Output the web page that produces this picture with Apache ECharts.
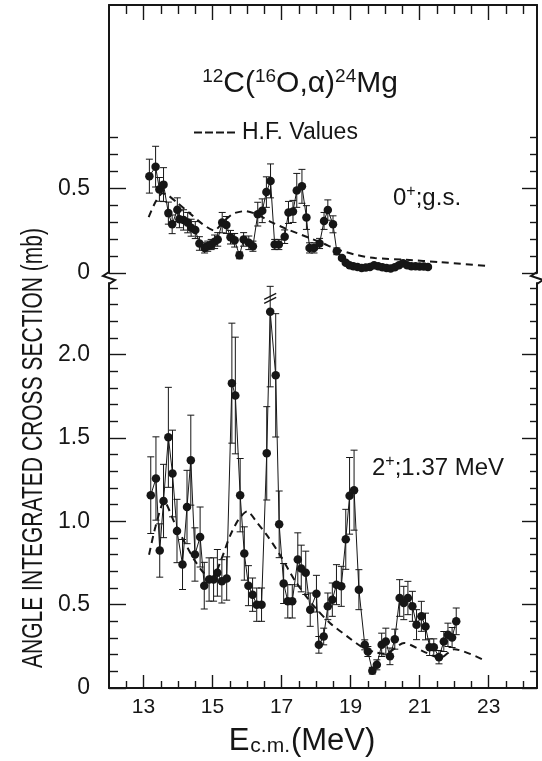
<!DOCTYPE html>
<html>
<head>
<meta charset="utf-8">
<script src="https://cdn.jsdelivr.net/npm/echarts@6/dist/echarts.min.js"></script>
<style>
  html, body { margin: 0; padding: 0; background: #fff; }
  #chart { width: 542px; height: 761px; }
</style>
</head>
<body>
<div id="chart"></div>
<script>
// 12C(16O,alpha)24Mg angle-integrated cross sections (mb) vs E c.m. (MeV)

// Ground state (0+)
const gsEnergy = [13.17,13.35,13.46,13.58,13.72,13.83,13.98,14.04,14.16,14.28,14.38,14.50,14.62,14.77,14.86,14.96,15.06,15.15,15.28,15.40,15.52,15.64,15.78,15.90,16.05,16.17,16.31,16.44,16.56,16.68,16.80,16.92,17.09,17.20,17.33,17.44,17.59,17.72,17.81,17.94,18.10,18.23,18.34,18.49,18.60,18.75,18.86,18.97,19.08,19.20,19.32,19.44,19.56,19.68,19.80,19.92,20.04,20.16,20.28,20.40,20.52,20.64,20.76,20.88,21.00,21.12,21.24];
const gsSigma = [0.571,0.627,0.493,0.521,0.353,0.287,0.373,0.317,0.313,0.297,0.267,0.253,0.174,0.148,0.158,0.168,0.184,0.198,0.297,0.283,0.211,0.193,0.104,0.198,0.178,0.158,0.347,0.367,0.477,0.543,0.168,0.168,0.214,0.357,0.363,0.487,0.511,0.327,0.148,0.148,0.174,0.307,0.371,0.287,0.128,0.088,0.060,0.045,0.040,0.035,0.030,0.032,0.036,0.045,0.040,0.034,0.030,0.026,0.034,0.045,0.058,0.046,0.040,0.040,0.038,0.038,0.036];
const gsError = [0.10,0.12,0.07,0.10,0.065,0.055,0.07,0.05,0.06,0.06,0.05,0.05,0.04,0.03,0.03,0.03,0.04,0.04,0.06,0.05,0.04,0.04,0.02,0.04,0.04,0.03,0.07,0.07,0.09,0.10,0.03,0.03,0.04,0.065,0.065,0.10,0.10,0.07,0.03,0.03,0.03,0.05,0.06,0.05,0.02,0.01,0.01,0.01,0.01,0.01,0.01,0.01,0.01,0.01,0.01,0.01,0.01,0.01,0.01,0.01,0.01,0.01,0.01,0.01,0.01,0.01,0.01];

// First excited state (2+, 1.37 MeV)
const exEnergy = [13.21,13.36,13.47,13.58,13.72,13.84,13.97,14.13,14.26,14.37,14.49,14.64,14.76,14.90,15.03,15.14,15.27,15.41,15.56,15.66,15.80,15.92,16.04,16.16,16.28,16.42,16.57,16.67,16.83,16.93,17.06,17.18,17.31,17.47,17.57,17.70,17.83,18.01,18.08,18.22,18.34,18.47,18.59,18.73,18.86,18.97,19.10,19.24,19.41,19.50,19.63,19.76,19.90,20.02,20.14,20.28,20.42,20.54,20.66,20.79,20.91,21.05,21.17,21.29,21.41,21.56,21.70,21.82,21.94,22.06];
const exSigma = [1.157,1.257,0.825,1.122,1.504,1.287,0.942,0.741,1.086,1.367,0.801,0.906,0.614,0.651,0.651,0.691,0.640,0.657,1.829,1.755,1.157,0.807,0.614,0.560,0.500,0.500,1.408,2.257,1.876,0.982,0.627,0.520,0.520,0.771,0.717,0.691,0.470,0.566,0.259,0.309,0.490,0.530,0.620,0.610,0.892,1.153,1.187,0.590,0.259,0.219,0.104,0.139,0.259,0.279,0.190,0.293,0.540,0.510,0.540,0.490,0.380,0.430,0.369,0.245,0.245,0.185,0.279,0.319,0.303,0.400];
const exError = [0.23,0.25,0.16,0.22,0.30,0.26,0.19,0.15,0.22,0.27,0.16,0.18,0.14,0.13,0.13,0.14,0.13,0.13,0.36,0.35,0.22,0.16,0.12,0.10,0.10,0.10,0.28,0.45,0.37,0.20,0.12,0.10,0.10,0.16,0.14,0.13,0.10,0.11,0.05,0.05,0.08,0.10,0.12,0.12,0.18,0.23,0.24,0.12,0.03,0.03,0.02,0.03,0.07,0.08,0.05,0.06,0.11,0.10,0.10,0.09,0.09,0.09,0.08,0.05,0.05,0.04,0.06,0.07,0.06,0.08];

// Hauser-Feshbach predictions
const hfGsEnergy = [13.15,13.35,13.55,13.70,14.00,14.35,14.70,15.05,15.30,15.60,15.95,16.30,16.70,17.20,17.70,18.20,18.60,19.20,19.70,20.60,21.60,22.90];
const hfGsSigma  = [0.330,0.420,0.470,0.460,0.410,0.350,0.290,0.250,0.300,0.350,0.365,0.345,0.300,0.255,0.215,0.175,0.140,0.105,0.088,0.078,0.064,0.042];
const hfExEnergy = [13.16,13.35,13.60,13.90,14.20,14.50,14.75,15.00,15.25,15.50,15.75,16.00,16.30,16.60,16.95,17.40,17.90,18.40,18.90,19.30,19.70,20.00,20.55,21.10,21.60,22.00,22.90];
const hfExSigma  = [0.800,0.970,1.120,0.990,0.870,0.760,0.690,0.665,0.770,0.910,1.010,1.060,0.990,0.910,0.800,0.640,0.500,0.390,0.310,0.250,0.215,0.205,0.270,0.220,0.180,0.233,0.164];

// Axis ranges and labelled ticks
const energyRange = [12, 24.4];
const energyLabels = [13, 15, 17, 19, 21, 23];
const gsRange = [0, 1.58];
const gsLabels = [0, 0.5];
const exRange = [0, 2.43];
const exLabels = [0, 0.5, 1.0, 1.5, 2.0];
const exBarBreak = 2.41;   // error bars above this are drawn broken

const INK = '#161616';
const FONT = "'Liberation Sans', Arial, sans-serif";

// minor tick positions
const energyMinor = [];
for (let k = 25; k <= 48; k++) { const v = k / 2; if (energyLabels.indexOf(v) < 0) energyMinor.push(v); }
function tenths(maxK) { const out = []; for (let k = 1; k <= maxK; k++) if (k % 5) out.push(k / 10); return out; }
const gsMinor = tenths(8);
const exMinor = tenths(24);

function xAxis(gridIndex, position, ticks, len, showLine, labels) {
  return {
    type: 'value', gridIndex, position, min: energyRange[0], max: energyRange[1],
    axisLine: { show: showLine, onZero: false, lineStyle: { color: INK, width: 2 } },
    axisTick: { show: true, inside: true, length: len, customValues: ticks, lineStyle: { color: INK, width: 1.4 } },
    axisLabel: labels ? { show: true, customValues: labels, formatter: v => String(v), fontFamily: FONT, fontSize: 21, color: INK, margin: 9 } : { show: false },
    splitLine: { show: false }
  };
}
function yAxis(gridIndex, position, range, ticks, len, showLine, labels) {
  return {
    type: 'value', gridIndex, position, min: range[0], max: range[1],
    axisLine: { show: showLine, onZero: false, lineStyle: { color: INK, width: 2 } },
    axisTick: { show: true, inside: true, length: len, customValues: ticks, lineStyle: { color: INK, width: 1.4 } },
    axisLabel: labels ? { show: true, customValues: labels, formatter: v => (v === 0 ? '0' : v.toFixed(1)), fontFamily: FONT, fontSize: 23, color: INK, margin: 19 } : { show: false },
    splitLine: { show: false }
  };
}

function errorBars(capAt) {
  return function (params, api) {
    const x = api.value(0), y = api.value(1), e = api.value(2);
    const broken = y + e > capAt;
    const hi = broken ? capAt : y + e;
    const lo = Math.max(y - e, 0);
    const p1 = api.coord([x, hi]), p2 = api.coord([x, lo]);
    const w = 3.5;
    const st = { stroke: INK, lineWidth: 1 };
    const children = [
      { type: 'line', shape: { x1: p1[0], y1: p1[1], x2: p2[0], y2: p2[1] }, style: st },
      { type: 'line', shape: { x1: p1[0] - w, y1: p1[1], x2: p1[0] + w, y2: p1[1] }, style: st },
      { type: 'line', shape: { x1: p2[0] - w, y1: p2[1], x2: p2[0] + w, y2: p2[1] }, style: st }
    ];
    if (broken) {
      const yb = p1[1] + 10;
      children.push({ type: 'line', shape: { x1: p1[0] - 6, y1: yb + 3, x2: p1[0] + 6, y2: yb - 3 }, style: { stroke: INK, lineWidth: 1.3 } });
      children.push({ type: 'line', shape: { x1: p1[0] - 6, y1: yb + 7, x2: p1[0] + 6, y2: yb + 1 }, style: { stroke: INK, lineWidth: 1.3 } });
    }
    return { type: 'group', children };
  };
}

const zip2 = (a, b) => a.map((v, i) => [v, b[i]]);
const zip3 = (a, b, c) => a.map((v, i) => [v, b[i], c[i]]);

const dataLine = (xi, yi, data) => ({
  type: 'line', xAxisIndex: xi, yAxisIndex: yi, data,
  symbol: 'circle', symbolSize: 8.5, showAllSymbol: true,
  itemStyle: { color: INK }, lineStyle: { color: INK, width: 1 }, z: 4
});
const hfLine = (xi, yi, data) => ({
  name: 'H.F. Values', type: 'line', xAxisIndex: xi, yAxisIndex: yi, data,
  symbol: 'none', smooth: 0.25, itemStyle: { color: INK },
  lineStyle: { color: INK, width: 2, type: [7, 5] }, z: 3
});
const errSeries = (xi, yi, data, cap) => ({
  type: 'custom', xAxisIndex: xi, yAxisIndex: yi, data, renderItem: errorBars(cap), z: 2
});

// condensed vertical axis title: fit it to a fixed length
const yTitle = 'ANGLE INTEGRATED CROSS SECTION (mb)';
const yTitleSize = 29;
const ctx = document.createElement('canvas').getContext('2d');
ctx.font = yTitleSize + 'px ' + FONT;
const yTitleScale = 440 / ctx.measureText(yTitle).width;

const breakMark = x => ({
  type: 'polyline', silent: true,
  shape: { points: [[x, 272], [x - 6, 276], [x + 6, 280], [x, 284]] },
  style: { stroke: INK, lineWidth: 2, fill: null }
});

// dashed sample for the legend entry
const dashIcon = 'path://M0 0h8v2h-8zM11 0h8v2h-8zM22 0h8v2h-8zM33 0h8v2h-8z';

const option = {
  animation: false,
  backgroundColor: '#ffffff',
  grid: [
    { left: 109, right: 5, top: 5, height: 268 },
    { left: 109, right: 5, top: 283, height: 405 }
  ],
  xAxis: [
    xAxis(0, 'top', energyLabels, 15, true, null),
    xAxis(0, 'top', energyMinor, 9, false, null),
    xAxis(1, 'bottom', energyLabels, 13, true, energyLabels),
    xAxis(1, 'bottom', energyMinor, 7, false, null)
  ],
  yAxis: [
    yAxis(0, 'left', gsRange, gsLabels, 17, true, gsLabels),
    yAxis(0, 'left', gsRange, gsMinor, 9, false, null),
    yAxis(0, 'right', gsRange, gsLabels, 15, true, null),
    yAxis(0, 'right', gsRange, gsMinor, 7, false, null),
    yAxis(1, 'left', exRange, exLabels, 17, true, exLabels),
    yAxis(1, 'left', exRange, exMinor, 9, false, null),
    yAxis(1, 'right', exRange, exLabels, 15, true, null),
    yAxis(1, 'right', exRange, exMinor, 7, false, null)
  ],
  legend: {
    data: [{ name: 'H.F. Values', icon: dashIcon }], left: 189, top: 116,
    itemWidth: 41, itemHeight: 2, itemGap: 0,
    itemStyle: { color: INK, borderWidth: 0 },
    textStyle: { fontFamily: FONT, fontSize: 23, color: INK, padding: [0, 0, 0, 2] }
  },
  series: [
    hfLine(0, 0, zip2(hfGsEnergy, hfGsSigma)),
    errSeries(0, 0, zip3(gsEnergy, gsSigma, gsError), Infinity),
    dataLine(0, 0, zip2(gsEnergy, gsSigma)),
    hfLine(2, 4, zip2(hfExEnergy, hfExSigma)),
    errSeries(2, 4, zip3(exEnergy, exSigma, exError), exBarBreak),
    dataLine(2, 4, zip2(exEnergy, exSigma))
  ],
  graphic: [
    { type: 'rect', silent: true, shape: { x: 100, y: 272, width: 20, height: 12 }, style: { fill: '#fff' } },
    { type: 'rect', silent: true, shape: { x: 528, y: 272, width: 14, height: 12 }, style: { fill: '#fff' } },
    breakMark(109), breakMark(537),
    {
      type: 'text', x: 300, y: 83, silent: true,
      style: {
        text: '{s|12}{n|C(}{s|16}{n|O,α)}{s|24}{n|Mg}', align: 'center', verticalAlign: 'middle',
        rich: {
          n: { fontFamily: FONT, fontSize: 30, lineHeight: 32, verticalAlign: 'bottom', fill: INK },
          s: { fontFamily: FONT, fontSize: 19, lineHeight: 18, verticalAlign: 'top', fill: INK }
        }
      }
    },
    {
      type: 'text', x: 393, y: 197, silent: true,
      style: {
        text: '{n|0}{s|+}{n|;g.s.}', align: 'left', verticalAlign: 'middle',
        rich: {
          n: { fontFamily: FONT, fontSize: 24, lineHeight: 26, verticalAlign: 'bottom', fill: INK },
          s: { fontFamily: FONT, fontSize: 16, lineHeight: 14, verticalAlign: 'top', fill: INK }
        }
      }
    },
    {
      type: 'text', x: 372, y: 467, silent: true,
      style: {
        text: '{n|2}{s|+}{n|;1.37 MeV}', align: 'left', verticalAlign: 'middle',
        rich: {
          n: { fontFamily: FONT, fontSize: 24, lineHeight: 26, verticalAlign: 'bottom', fill: INK },
          s: { fontFamily: FONT, fontSize: 16, lineHeight: 14, verticalAlign: 'top', fill: INK }
        }
      }
    },
    {
      type: 'text', x: 302, y: 740, silent: true,
      style: {
        text: '{b|E}{c|c.m.}{b|(MeV)}', align: 'center', verticalAlign: 'middle',
        rich: {
          b: { fontFamily: FONT, fontSize: 31, lineHeight: 34, verticalAlign: 'bottom', fill: INK },
          c: { fontFamily: FONT, fontSize: 21, lineHeight: 22, verticalAlign: 'bottom', fill: INK, padding: [0, 1, 0, 1] }
        }
      }
    },
    {
      type: 'text', x: 34, y: 448, rotation: Math.PI / 2, scaleX: yTitleScale, silent: true,
      style: { text: yTitle, fontFamily: FONT, fontSize: yTitleSize, fill: INK, align: 'center', verticalAlign: 'middle' }
    }
  ]
};

const chart = echarts.init(document.getElementById('chart'), null, { renderer: 'canvas' });
chart.setOption(option);
</script>
</body>
</html>
